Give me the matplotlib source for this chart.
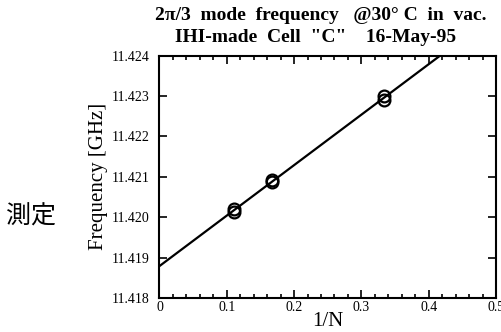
import matplotlib
matplotlib.use('Agg')
import matplotlib.pyplot as plt
import numpy as np
from matplotlib.ticker import MultipleLocator, FormatStrFormatter

# measured points: 1/N and frequency [GHz]
inv_n = [1/9, 1/9, 1/6, 1/6, 1/3, 1/3]
freq = [11.42012, 11.42020, 11.42088, 11.42092, 11.42290, 11.42300]

title_lines = ['2\u03c0/3  mode  frequency   @30\u00b0 C  in  vac.',
               'IHI-made  Cell  "C"    16-May-95']

plt.rcParams['font.family'] = ['Liberation Serif', 'DejaVu Serif']

fig = plt.figure(figsize=(5.02, 3.32), dpi=100)
ax = fig.add_axes([159.5/502, 1 - 298/332, 336.5/502, 242.3/332])

# least squares fit line through the points
slope, icpt = np.polyfit(inv_n, freq, 1)
xs = np.array([0, 0.5])
ax.plot(xs, icpt + slope*xs, color='black', lw=1.6)
ax.plot(inv_n, freq, 'o', ms=8.5, mfc='none', mec='black', mew=1.6)

ax.set_xlim(0, 0.5)
ax.set_ylim(11.418, 11.424)
ax.xaxis.set_major_locator(MultipleLocator(0.1))
ax.xaxis.set_minor_locator(MultipleLocator(0.02))
ax.yaxis.set_major_locator(MultipleLocator(0.001))
ax.yaxis.set_major_formatter(FormatStrFormatter('%.3f'))
ax.xaxis.set_major_formatter(FormatStrFormatter('%g'))
ax.tick_params(which='both', direction='in', top=True, right=True, width=1.2)
ax.tick_params(which='major', length=6, labelsize=10)
ax.tick_params(which='minor', length=3)
ax.tick_params(axis='x', pad=2)
ax.tick_params(axis='y', pad=7)
for s in ax.spines.values():
    s.set_linewidth(1.5)

ax.set_xlabel('1/N', fontsize=15, labelpad=-1)
ax.set_ylabel('Frequency [GHz]', fontsize=15, labelpad=3)

fig.text(0.638, 1 - 15/332, title_lines[0], ha='center', va='center',
         fontsize=14, fontweight='bold')
fig.text(0.628, 1 - 38/332, title_lines[1], ha='center', va='center',
         fontsize=14, fontweight='bold')

fig.text(31/502, 1 - 217/332, '測定', ha='center', va='center', fontsize=18,
         family=['Noto Sans CJK JP', 'DejaVu Sans'])

fig.savefig('out.png', dpi=100)
